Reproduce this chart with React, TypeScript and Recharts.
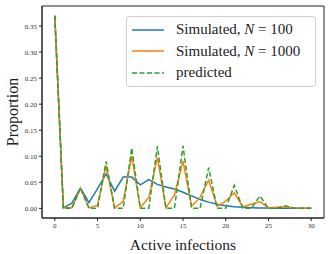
import { LineChart, Line, XAxis, YAxis, Label, ReferenceArea } from 'recharts';

const infections = Array.from({ length: 31 }, (_, i) => i);

const simulated100 = [
  0.37, 0.001, 0.01, 0.039, 0.011, 0.038, 0.066, 0.033, 0.06, 0.06, 0.045,
  0.055, 0.046, 0.041, 0.037, 0.031, 0.024, 0.017, 0.012, 0.008, 0.005,
  0.003, 0.002, 0.0013, 0.0008, 0.0005, 0.0004, 0.0003, 0.0002, 0.0001, 0.0001,
];

const simulated1000 = [
  0.365, 0.001, 0.001, 0.038, 0.001, 0.006, 0.082, 0.001, 0.013, 0.101, 0.001,
  0.021, 0.098, 0.001, 0.026, 0.091, 0.004, 0.021, 0.054, 0.004, 0.014,
  0.03, 0.003, 0.008, 0.013, 0.001, 0.002, 0.003, 0.0005, 0.0002, 0.0001,
];

const predicted = [
  0.37, 0, 0, 0.039, 0, 0, 0.09, 0, 0, 0.116, 0,
  0, 0.119, 0, 0, 0.12, 0, 0, 0.078, 0, 0,
  0.044, 0, 0, 0.024, 0, 0, 0.005, 0, 0, 0,
];

const xTicks = [0, 5, 10, 15, 20, 25, 30];
const yTicks = [0, 0.05, 0.1, 0.15, 0.2, 0.25, 0.3, 0.35];

const xDomain = [-1.5, 31.5];
const yDomain = [-0.0185, 0.3885];

const series = [
  { key: 'n100', name: 'Simulated, ', n: '100', color: '#1f77b4', dash: undefined },
  { key: 'n1000', name: 'Simulated, ', n: '1000', color: '#ff7f0e', dash: undefined },
  { key: 'pred', name: 'predicted', n: null, color: '#2ca02c', dash: '5 2.5' },
];

const data = infections.map((x, i) => ({
  x,
  n100: simulated100[i],
  n1000: simulated1000[i],
  pred: predicted[i],
}));

const font = '"Liberation Serif", "DejaVu Serif", serif';
const tickStyle = { fontSize: 7, fill: '#333', fontFamily: font };

function LegendBox() {
  return (
    <div
      style={{
        position: 'absolute',
        left: 126,
        top: 16,
        width: 190,
        height: 71,
        boxSizing: 'border-box',
        border: '1px solid #d0d0d0',
        borderRadius: 3,
        background: 'rgba(255,255,255,0.85)',
        fontFamily: font,
        fontSize: 15,
        color: '#222',
        padding: '2px 0 0 5px',
      }}
    >
      {series.map((s) => (
        <div key={s.key} style={{ display: 'flex', alignItems: 'center', height: 21.5 }}>
          <svg width={32} height={6} style={{ marginRight: 12 }}>
            <line
              x1={0}
              x2={32}
              y1={3}
              y2={3}
              stroke={s.color}
              strokeWidth={1.5}
              strokeDasharray={s.dash}
            />
          </svg>
          <span style={{ whiteSpace: 'nowrap' }}>
            {s.name}
            {s.n && (
              <>
                <i>N</i> = {s.n}
              </>
            )}
          </span>
        </div>
      ))}
    </div>
  );
}

export default function App() {
  return (
    <div style={{ position: 'fixed', left: 0, top: 0, width: 333, height: 254, background: '#fff' }}>
      <LineChart width={333} height={254} data={data} margin={{ top: 6, right: 9, bottom: 0, left: 0 }}>
        <XAxis
          dataKey="x"
          type="number"
          domain={xDomain}
          ticks={xTicks}
          allowDataOverflow
          height={36}
          tick={tickStyle}
          tickSize={3}
          tickMargin={2}
          stroke="#222"
        >
          <Label
            value="Active infections"
            position="insideBottom"
            offset={4}
            style={{ fontSize: 15.5, fontFamily: font, fill: '#222' }}
          />
        </XAxis>
        <YAxis
          type="number"
          domain={yDomain}
          ticks={yTicks}
          allowDataOverflow
          width={42}
          tick={tickStyle}
          tickSize={3}
          tickMargin={2}
          tickFormatter={(v: number) => v.toFixed(2)}
          stroke="#222"
        >
          <Label
            content={({ viewBox }: any) => {
              const cx = 12;
              const cy = viewBox.y + viewBox.height / 2;
              return (
                <text
                  x={cx}
                  y={cy}
                  transform={`rotate(-90 ${cx} ${cy})`}
                  textAnchor="middle"
                  dominantBaseline="central"
                  style={{ fontSize: 16, fontFamily: font, fill: '#222' }}
                >
                  Proportion
                </text>
              );
            }}
          />
        </YAxis>
        {/* frame: matplotlib draws all four spines */}
        <ReferenceArea
          x1={xDomain[0]}
          x2={xDomain[1]}
          y1={yDomain[0]}
          y2={yDomain[1]}
          fill="none"
          fillOpacity={0}
          stroke="#222"
          strokeWidth={1}
          ifOverflow="extendDomain"
        />
        {series.map((s) => (
          <Line
            key={s.key}
            dataKey={s.key}
            type="linear"
            stroke={s.color}
            strokeWidth={1.5}
            strokeDasharray={s.dash}
            dot={false}
            isAnimationActive={false}
          />
        ))}
      </LineChart>
      <LegendBox />
    </div>
  );
}
